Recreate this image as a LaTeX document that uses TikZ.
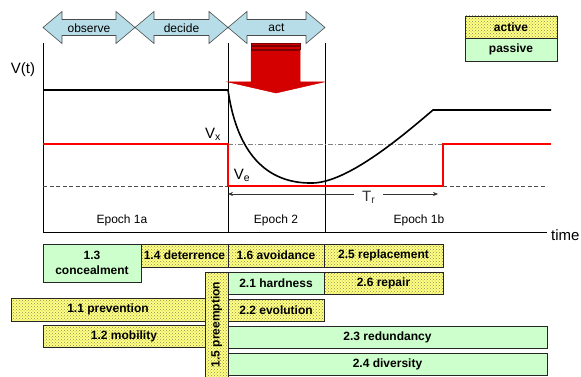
\documentclass[tikz,border=0pt]{standalone}
\usepackage{fontspec}
\setmainfont{Liberation Sans}
\usetikzlibrary{patterns,arrows.meta}
\definecolor{arrowblue}{HTML}{B7DEE8}
\definecolor{pgreen}{HTML}{CCFFCC}
\definecolor{pyellow}{HTML}{FFFF80}
\definecolor{dotcol}{HTML}{8C8C60}
\definecolor{bigred}{HTML}{D40000}
\definecolor{darkred}{HTML}{7A0000}
\definecolor{vred}{HTML}{FF0000}
\tikzset{
  basebox/.style={draw=black!85, line width=0.8pt, inner sep=0pt, outer sep=0pt,
    font=\bfseries\fontsize{12}{15}\selectfont, align=center},
  activebox/.style={basebox, preaction={fill=pyellow}, pattern=crosshatch dots, pattern color=dotcol},
  passivebox/.style={basebox, fill=pgreen},
  phase/.style={draw=black!70, line width=0.6pt, fill=arrowblue},
  lbl/.style={font=\fontsize{12}{14}\selectfont, inner sep=0pt},
  biglbl/.style={font=\fontsize{15}{17}\selectfont, inner sep=0pt},
  axis/.style={line width=0.8pt, black},
}
\newcommand{\bx}[7]{\node[#6, minimum width={(#4-#2)*1pt}, minimum height={(#5-#3)*1pt}]
  (#1) at ({(#2+#4)/2},{(#3+#5)/2}) {#7};}
\newcommand{\phasearrow}[2]{\draw[phase] (#1,27.5) -- ({#1+19},11.5) -- ({#1+19},19.5) -- ({#2-19},19.5)
  -- ({#2-19},11.5) -- (#2,27.5) -- ({#2-19},43.5) -- ({#2-19},35.5) -- ({#1+19},35.5) -- ({#1+19},43.5) -- cycle;}
\begin{document}
\begin{tikzpicture}[x=1pt,y=-1pt]
\useasboundingbox (0,0) rectangle (581,377);
% phase arrows
\phasearrow{43}{135}
\phasearrow{135}{228}
\phasearrow{228}{325}
\node[lbl] (observe) at (89,28) {observe};
\node[lbl] (decide) at (181.5,28) {decide};
\node[lbl] (act) at (276.5,28) {act};
% legend
\bx{lact}{465}{16}{557}{38}{activebox}{active}
\bx{lpas}{465}{38}{557}{61}{passivebox}{passive}
% axes and epoch lines
\coordinate (o) at (43,232);
\coordinate (ytop) at (43,43);
\coordinate (xend) at (547,232);
\draw[axis] (ytop) -- (o) -- (xend);
\coordinate (e2top) at (228,43); \coordinate (e2bot) at (228,232);
\coordinate (e3top) at (325,43); \coordinate (e3bot) at (325,232);
\draw[line width=0.6pt] (e2top) -- (e2bot);
\draw[line width=0.6pt] (e3top) -- (e3bot);
\node[biglbl] (vt) at (23,70) {V(t)};
\node[biglbl, anchor=west] (time) at (551,235) {time};
% reference lines
\draw[gray, dash pattern=on 5pt off 2pt on 1pt off 2pt, line width=0.7pt] (228,144) -- (551,144);
\draw[gray!60!black, dash pattern=on 4pt off 2.5pt, line width=0.7pt] (43,186) -- (228,186);
\draw[gray!60!black, dash pattern=on 4pt off 2.5pt, line width=0.7pt] (443,186) -- (547,186);
% red threshold line
\draw[vred, line width=1.3pt] (43,144) -- (228,144) -- (228,186) -- (443,186) -- (443,144) -- (551,144);
% black performance curve
\draw[line width=1.6pt] (43,90) -- (228,90) .. controls (238,160) and (272,184) .. (313,183)
  .. controls (347,182) and (398,140) .. (433,110) -- (551,110);
% big red arrow
\draw[fill=bigred, draw=darkred, line width=0.5pt] (251,43) rectangle (300,45);
\draw[fill=bigred, draw=darkred, line width=0.5pt] (251,46.5) rectangle (300,49);
\draw[fill=bigred, draw=bigred, line width=0.5pt] (251,50.5) -- (300,50.5) -- (300,82) -- (324,82) -- (276,93) -- (228,82) -- (251,82) -- cycle;
\draw[darkred, line width=0.5pt] (251,50.5) -- (300,50.5);
% labels
\node[biglbl] (vx) at (213,134) {V\textsubscript{x}};
\node[biglbl] (ve) at (242,175) {V\textsubscript{e}};
\coordinate (trl) at (228,194);
\coordinate (trr) at (438,194);
\draw[black!80, line width=0.6pt, {Stealth[length=5pt,width=4pt]}-{Stealth[length=5pt,width=4pt]}] (trl) -- node[biglbl, fill=white, inner xsep=8pt, inner ysep=2pt, pos=0.67, yshift=-3pt] (tr) {T\textsubscript{r}} (trr);
\node[lbl] (ep1a) at (122,220) {Epoch 1a};
\node[lbl] (ep2) at (276,220) {Epoch 2};
\node[lbl] (ep1b) at (419,220) {Epoch 1b};
% strategy boxes
\node[activebox, rotate=90, minimum width=105pt, minimum height=23pt] (b15) at (216.5,324.5) {1.5 preemption};
\bx{b13}{43}{244}{141}{282}{passivebox}{1.3\\concealment}
\bx{b14}{141}{244}{228}{267}{activebox}{1.4 deterrence}
\bx{b16}{228}{244}{324}{267}{activebox}{1.6 avoidance}
\bx{b25}{324}{244}{443}{267}{activebox}{2.5 replacement}
\bx{b21}{228}{272}{324}{294}{passivebox}{2.1 hardness}
\bx{b26}{324}{272}{443}{294}{activebox}{2.6 repair}
\bx{b11}{11}{298}{205}{321}{activebox}{1.1 prevention}
\bx{b22}{228}{299}{324}{321}{activebox}{2.2 evolution}
\bx{b12}{43}{325}{205}{347}{activebox}{1.2 mobility}
\bx{b23}{228}{326}{547}{348}{passivebox}{2.3 redundancy}
\bx{b24}{228}{353}{547}{375}{passivebox}{2.4 diversity}
\end{tikzpicture}
\end{document}
